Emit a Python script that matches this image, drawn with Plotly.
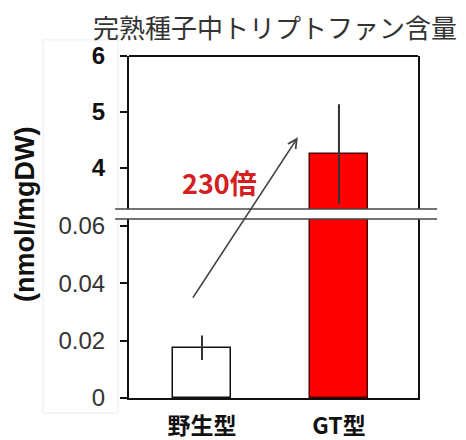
import plotly.graph_objects as go

# ---- data ----
categories = ["野生型", "GT型"]
values = [0.0175, 4.25]
errors = [0.0039, 0.87]
top_ticks = [4, 5, 6]
top_tick_labels = ["4", "5", "6"]
bottom_ticks = [0, 0.02, 0.04, 0.06]
bottom_tick_labels = ["0", "0.02", "0.04", "0.06"]
bar_colors = ["#ffffff", "#ff0000"]
title_text = "完熟種子中トリプトファン含量"
y_title = "(nmol/mgDW)"
ratio_text = "230倍"

CJK = "Noto Sans CJK JP"
LAT = "Liberation Sans, Arial, sans-serif"

fig = go.Figure()

for ax in ["y", "y2"]:
    fig.add_trace(go.Bar(
        x=categories, y=values, xaxis="x", yaxis=ax,
        width=0.42,
        marker=dict(color=bar_colors, line=dict(color=["#111111", "#550000"], width=1.5)),
        error_y=dict(type="data", array=errors, visible=True,
                     color="#333333", thickness=2, width=1),
        showlegend=False, hoverinfo="skip",
    ))

fig.update_layout(
    width=466, height=440,
    margin=dict(l=129, r=48, t=56, b=42),
    paper_bgcolor="white", plot_bgcolor="white",
    bargap=0,
    title=dict(text=title_text, x=275/466, xanchor="center", xref="container",
               y=1 - 29/440, yanchor="middle", automargin=False,
               font=dict(family=CJK, size=26, color="#333333")),
    xaxis=dict(
        domain=[0, 1], anchor="y", range=[-0.533, 1.577], automargin=False,
        showline=True, linecolor="#111111", linewidth=2,
        ticks="", showgrid=False, zeroline=False, ticklabelstandoff=6,
        tickfont=dict(family=CJK, size=23, color="#111111", weight="bold"),
    ),
    yaxis=dict(
        domain=[0, 179/342], range=[0, 0.0624], automargin=False,
        tickvals=bottom_ticks, ticktext=bottom_tick_labels,
        showline=True, mirror=True, linecolor="#111111", linewidth=2,
        ticks="outside", ticklen=7, tickwidth=2, tickcolor="#111111",
        showgrid=False, zeroline=False, ticklabelstandoff=10,
        tickfont=dict(family=LAT, size=24, color="#333333"),
    ),
    yaxis2=dict(
        domain=[189/342, 1], range=[3.27, 6], anchor="x", automargin=False,
        tickvals=top_ticks, ticktext=top_tick_labels,
        showline=True, mirror=True, linecolor="#111111", linewidth=2,
        ticks="outside", ticklen=7, tickwidth=2, tickcolor="#111111",
        showgrid=False, zeroline=False, ticklabelstandoff=10,
        tickfont=dict(family=LAT, size=24, color="#111111", weight="bold"),
    ),
)

# faint box behind tick labels
fig.add_shape(type="rect", xref="paper", yref="paper",
              x0=-0.298, x1=-0.038, y0=-0.044, y1=1.047,
              line=dict(color="#ececec", width=1), layer="below")
# top border
fig.add_shape(type="line", xref="paper", yref="paper", x0=0, x1=1, y0=1, y1=1,
              line=dict(color="#111111", width=2))
# axis break lines
for yb in [179/342, 189/342]:
    fig.add_shape(type="line", xref="paper", yref="paper", x0=-0.048, x1=1.066, y0=yb, y1=yb,
                  line=dict(color="#444444", width=1.5))

# y title
fig.add_annotation(text="<b>" + y_title + "</b>", xref="paper", yref="paper",
                   x=(25-129)/289, y=(398-215)/342, textangle=-90, showarrow=False,
                   xanchor="center", yanchor="middle",
                   font=dict(family=LAT, size=27, color="#111111"))
# ratio text
fig.add_annotation(text="<b>" + ratio_text + "</b>", xref="x", yref="y2",
                   x=0.13, y=3.75, showarrow=False,
                   font=dict(family=CJK, size=27, color="#d42020"))
# arrow
fig.add_annotation(text="", xref="x", yref="y2", x=0.70, y=4.55,
                   ax=-106, ay=162, showarrow=True,
                   arrowhead=5, arrowsize=1.2, arrowwidth=1.5, arrowcolor="#444444")

fig.write_html("out.html", config={"displayModeBar": False},
               post_script="document.body.style.margin='0';document.body.style.padding='0';")
